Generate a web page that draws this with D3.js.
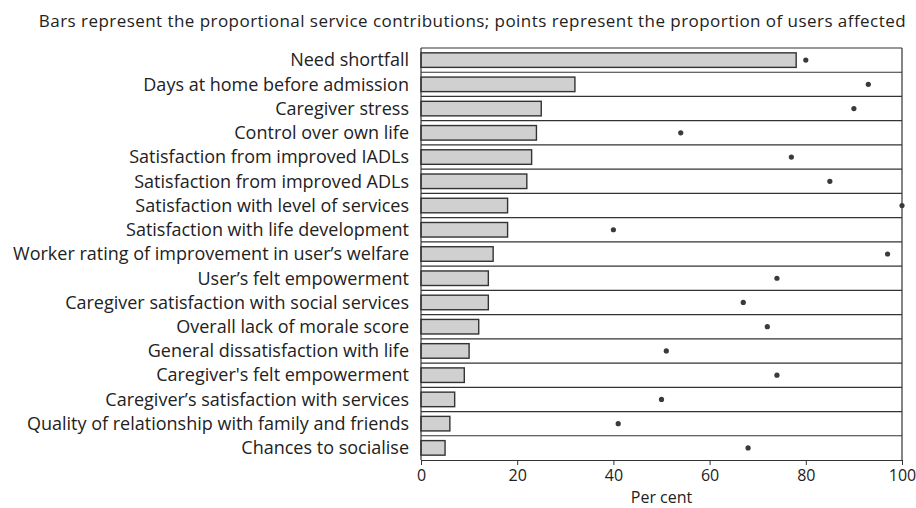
<!DOCTYPE html>
<html>
<head>
<meta charset="utf-8">
<script src="https://cdn.jsdelivr.net/npm/d3@7"></script>
<style>
  body { margin: 0; background: #fff; }
  text { font-family: "Open Sans", Lato, sans-serif; fill: #222; }
</style>
</head>
<body>
<svg id="chart" width="916" height="508"></svg>
<script>
// outcomes, top to bottom
var categories = [
  "Need shortfall",
  "Days at home before admission",
  "Caregiver stress",
  "Control over own life",
  "Satisfaction from improved IADLs",
  "Satisfaction from improved ADLs",
  "Satisfaction with level of services",
  "Satisfaction with life development",
  "Worker rating of improvement in user\u2019s welfare",
  "User\u2019s felt empowerment",
  "Caregiver satisfaction with social services",
  "Overall lack of morale score",
  "General dissatisfaction with life",
  "Caregiver's felt empowerment",
  "Caregiver\u2019s satisfaction with services",
  "Quality of relationship with family and friends",
  "Chances to socialise"
];
// proportional service contribution (bars)
var contribution = [78, 32, 25, 24, 23, 22, 18, 18, 15, 14, 14, 12, 10, 9, 7, 6, 5];
// proportion of users affected (points)
var usersAffected = [80, 93, 90, 54, 77, 85, 100, 40, 97, 74, 67, 72, 51, 74, 50, 41, 68];
var xTicks = [0, 20, 40, 60, 80, 100];

var title = "Bars represent the proportional service contributions; points represent the proportion of users affected";

var svg = d3.select("#chart");
var margin = {top: 48, right: 14, bottom: 48, left: 421};
var width = 916 - margin.left - margin.right;
var height = 508 - margin.top - margin.bottom;

var g = svg.append("g").attr("transform", "translate(" + margin.left + "," + margin.top + ")");

var x = d3.scaleLinear().domain([0, 100]).range([0, width]);
var y = d3.scaleBand().domain(categories).range([0, height]).paddingInner(0).paddingOuter(0);

// title
svg.append("text")
  .attr("x", 906).attr("y", 27)
  .attr("text-anchor", "end")
  .style("font-size", "17px")
  .style("letter-spacing", "0.45px")
  .text(title);

// row separators
g.selectAll("line.row")
  .data(categories)
  .enter().append("line")
  .attr("class", "row")
  .attr("x1", 0).attr("x2", width)
  .attr("y1", function(d){ return y(d); })
  .attr("y2", function(d){ return y(d); })
  .attr("stroke", "#333")
  .attr("stroke-width", 1.2);

// right border
g.append("line")
  .attr("x1", width).attr("x2", width)
  .attr("y1", 0).attr("y2", height)
  .attr("stroke", "#333").attr("stroke-width", 1.2);

// bars
var barH = y.bandwidth() * 0.6;
g.selectAll("rect.bar")
  .data(categories)
  .enter().append("rect")
  .attr("class", "bar")
  .attr("x", x(0))
  .attr("y", function(d){ return y(d) + (y.bandwidth() - barH) / 2; })
  .attr("width", function(d, i){ return x(contribution[i]) - x(0); })
  .attr("height", barH)
  .attr("fill", "#d0d0d0")
  .attr("stroke", "#333")
  .attr("stroke-width", 1.4);

// points
g.selectAll("circle.pt")
  .data(categories)
  .enter().append("circle")
  .attr("class", "pt")
  .attr("cx", function(d, i){ return x(usersAffected[i]); })
  .attr("cy", function(d){ return y(d) + y.bandwidth() / 2; })
  .attr("r", 2.6)
  .attr("fill", "#3a3a3a");

// category labels
g.selectAll("text.cat")
  .data(categories)
  .enter().append("text")
  .attr("class", "cat")
  .attr("x", -12)
  .attr("y", function(d){ return y(d) + y.bandwidth() / 2; })
  .attr("dy", "0.35em")
  .attr("text-anchor", "end")
  .style("font-size", "18px")
  .text(function(d){ return d; });

// left axis line
g.append("line")
  .attr("x1", 0).attr("x2", 0).attr("y1", 0).attr("y2", height)
  .attr("stroke", "#333").attr("stroke-width", 1.2);

// bottom axis
var xAxis = g.append("g")
  .attr("transform", "translate(0," + height + ")")
  .call(d3.axisBottom(x).tickValues(xTicks).tickSize(5).tickSizeOuter(0).tickPadding(5));
xAxis.select(".domain").attr("stroke", "#333").attr("stroke-width", 1.2);
xAxis.selectAll(".tick line").attr("stroke", "#333");
xAxis.selectAll(".tick text")
  .style("font-family", "'Open Sans', sans-serif")
  .style("font-size", "16px")
  .attr("fill", "#222");

svg.append("text")
  .attr("x", margin.left + width / 2)
  .attr("y", 503)
  .attr("text-anchor", "middle")
  .style("font-size", "16px")
  .text("Per cent");
</script>
</body>
</html>
